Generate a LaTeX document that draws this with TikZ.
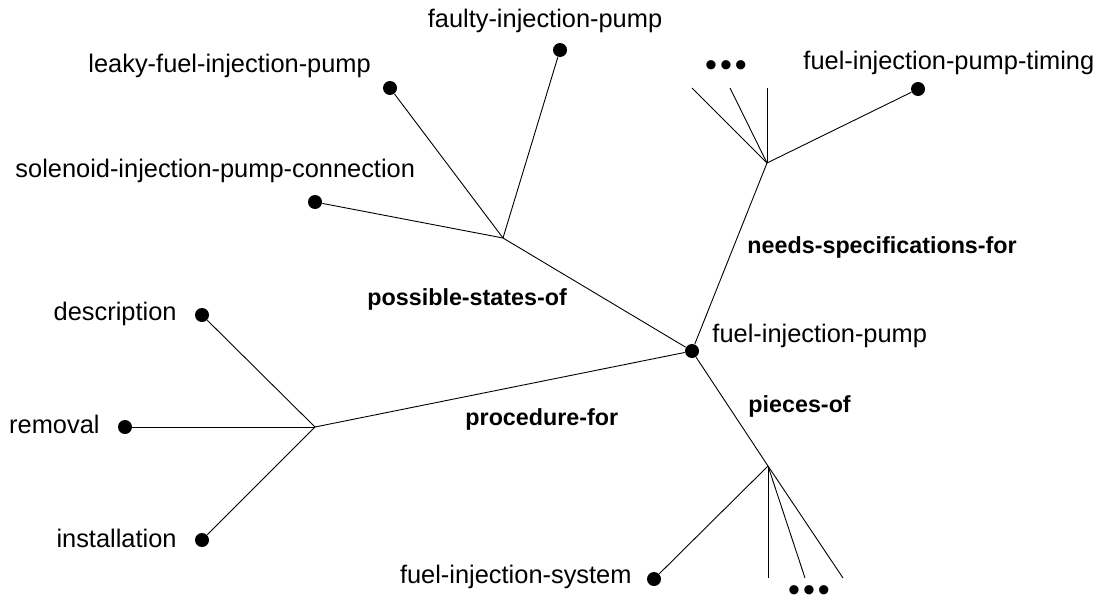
\documentclass[tikz,border=0pt]{standalone}
\usepackage{fontspec}
\setmainfont{Liberation Sans}
\begin{document}
\begin{tikzpicture}[x=1pt, y=-1pt, line width=0.9pt,
    dot/.style={circle, fill, inner sep=0pt, minimum size=14pt},
    term/.style={font=\fontsize{25.4}{30}\selectfont, inner sep=0pt},
    rel/.style={font=\fontsize{23.3}{28}\selectfont\bfseries, inner sep=0pt, anchor=base west},
    more/.style={font=\fontsize{34}{36}\selectfont, inner sep=0pt, anchor=center}]
  \useasboundingbox (0,0) rectangle (1099,602);

  % hub and branch points
  \node[dot] (fip) at (692,351) {};
  \node[term, anchor=base west] (fiplbl) at (712,342) {fuel-injection-pump};
  \coordinate (pso) at (503,238);
  \coordinate (pf) at (315,427);
  \coordinate (nsf) at (767,163);
  \coordinate (po) at (768,466);

  \draw (fip) -- (pso);
  \draw (fip) -- (pf);
  \draw (fip) -- (nsf);
  \draw (fip) -- (po);

  \node[rel] (psolbl) at (367,305) {possible-states-of};
  \node[rel] (pflbl) at (465,425) {procedure-for};
  \node[rel] (nsflbl) at (747,253) {needs-specifications-for};
  \node[rel] (polbl) at (748,412) {pieces-of};

  % possible-states-of
  \node[dot] (faulty) at (560,50) {};
  \node[term, anchor=base] (faultylbl) at (545,28) {faulty-injection-pump};
  \node[dot] (leaky) at (390,88) {};
  \node[term, anchor=base west] (leakylbl) at (88,72) {leaky-fuel-injection-pump};
  \node[dot] (solenoid) at (315,202) {};
  \node[term, anchor=base west] (solenoidlbl) at (15,177) {solenoid-injection-pump-connection};
  \draw (pso) -- (faulty);
  \draw (pso) -- (leaky);
  \draw (pso) -- (solenoid);

  % procedure-for
  \node[dot] (descr) at (202,315) {};
  \node[term, anchor=base east] (descrlbl) at (177,320) {description};
  \node[dot] (removal) at (125,427) {};
  \node[term, anchor=base east] (removallbl) at (100,433) {removal};
  \node[dot] (install) at (202,540) {};
  \node[term, anchor=base east] (installlbl) at (177,547) {installation};
  \draw (pf) -- (descr);
  \draw (pf) -- (removal);
  \draw (pf) -- (install);

  % needs-specifications-for
  \node[dot] (timing) at (918,89) {};
  \node[term, anchor=base west] (timinglbl) at (803,70) {fuel-injection-pump-timing};
  \draw (nsf) -- (timing);
  \foreach \x [count=\i] in {692,730,767} {
    \coordinate (up\i) at (\x,88);
    \draw (nsf) -- (up\i);
  }
  \node[more] (upmore) at (726,69) {\textbullet\hspace{3pt}\textbullet\hspace{3pt}\textbullet};

  % pieces-of
  \node[dot] (system) at (654,579) {};
  \node[term, anchor=base east] (systemlbl) at (632,583) {fuel-injection-system};
  \draw (po) -- (system);
  \foreach \x [count=\i] in {768,805,843} {
    \coordinate (down\i) at (\x,578);
    \draw (po) -- (down\i);
  }
  \node[more] (downmore) at (809,594) {\textbullet\hspace{3pt}\textbullet\hspace{3pt}\textbullet};
\end{tikzpicture}
\end{document}
